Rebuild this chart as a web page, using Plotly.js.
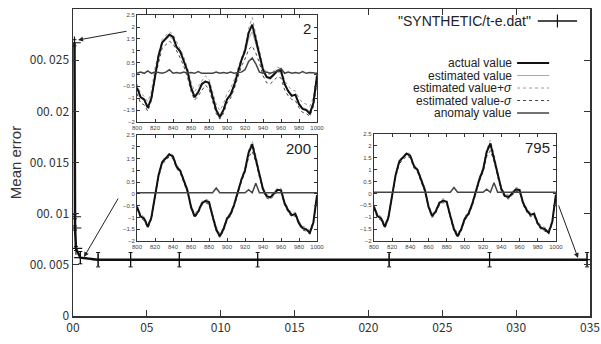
<!DOCTYPE html>
<html><head><meta charset="utf-8">
<script src="https://cdn.plot.ly/plotly-3.0.1.min.js"></script>
<style>html,body{margin:0;padding:0;background:#fff}#c{width:601px;height:344px}</style>
</head><body><div id="c"></div>
<script>
// ---- main series ----
const runX = [0.1, 0.12, 0.14, 0.2, 0.5, 1.7, 3.9, 7.2, 12.5, 21.4, 28.2, 34.8];
const meanErr = [0.0267, 0.0097, 0.0086, 0.0066, 0.0057, 0.0055, 0.0055, 0.0055, 0.0055, 0.0055, 0.0055, 0.0055];
const errBar = [0.0003, 0.0002, 0.0002, 0.0002, 0.0006, 0.0007, 0.0007, 0.0007, 0.0007, 0.0007, 0.0007, 0.0007];
const xTickVals = [0, 5, 10, 15, 20, 25, 30, 35];
const xTickText = ["00", "05", "010", "015", "020", "025", "030", "035"];
const yTickVals = [0, 0.005, 0.01, 0.015, 0.02, 0.025, 0.03];
const yTickText = ["0", "00. 005", "00. 01", "00. 015", "00. 02", "00. 025", "00. 03"];

// ---- inset series ----
const t = [800,804,808,812,816,820,824,828,832,836,840,844,848,852,856,860,864,868,872,876,880,884,888,892,896,900,904,908,912,916,920,924,928,932,936,940,944,948,952,956,960,964,968,972,976,980,984,988,992,996,1000];
const actual = [-0.55,-0.95,-1.05,-1.4,-1.0,-0.05,0.8,1.35,1.5,1.68,1.58,1.15,0.98,0.6,0.15,-0.55,-0.95,-0.75,-0.4,-0.3,-0.35,-0.95,-1.5,-1.8,-1.5,-1.05,-0.85,-0.45,0.1,0.6,1.0,1.75,2.1,1.5,0.8,0.2,-0.1,-0.15,0.0,0.17,0.15,-0.4,-0.7,-0.9,-0.85,-1.25,-1.45,-1.5,-1.65,-1.2,-0.05];
const est1 = [-0.6,-1.0,-1.1,-1.35,-0.9,0.05,0.7,1.3,1.45,1.6,1.5,1.2,0.9,0.55,0.1,-0.5,-0.9,-0.7,-0.45,-0.25,-0.4,-0.9,-1.45,-1.7,-1.45,-1.0,-0.8,-0.4,0.05,0.55,0.9,1.5,1.8,1.3,0.75,0.15,-0.15,-0.2,-0.05,0.1,0.05,-0.45,-0.7,-0.85,-0.9,-1.2,-1.4,-1.45,-1.55,-1.15,-0.1];
const sig1 = [0.2,0.2,0.18,0.2,0.2,0.22,0.2,0.18,0.2,0.2,0.2,0.18,0.2,0.2,0.2,0.2,0.18,0.2,0.2,0.2,0.2,0.2,0.2,0.18,0.2,0.2,0.2,0.2,0.2,0.2,0.25,0.45,0.6,0.4,0.25,0.2,0.2,0.2,0.2,0.2,0.2,0.2,0.2,0.2,0.2,0.2,0.2,0.2,0.2,0.2,0.2];
const anom1 = [0.05,0.1,0.05,0.15,0.05,0.1,0.08,0.05,0.1,0.2,0.05,0.08,0.05,0.1,0.05,0.08,0.05,0.12,0.05,0.05,0.08,0.05,0.1,0.05,0.08,0.05,0.1,0.05,0.08,0.1,0.2,0.55,0.7,0.45,0.1,0.05,0.1,0.05,0.1,0.15,0.25,0.05,0.1,0.05,0.08,0.05,0.12,0.05,0.08,0.05,0.05];
const est23 = [-0.55,-0.95,-1.05,-1.38,-1.0,-0.05,0.78,1.33,1.5,1.66,1.57,1.15,0.97,0.6,0.15,-0.53,-0.93,-0.75,-0.4,-0.3,-0.36,-0.94,-1.48,-1.77,-1.5,-1.04,-0.85,-0.45,0.1,0.6,1.0,1.7,2.02,1.5,0.8,0.2,-0.1,-0.15,0.0,0.17,0.15,-0.4,-0.7,-0.9,-0.85,-1.24,-1.45,-1.5,-1.62,-1.2,-0.05];
const sig23 = [0.08,0.08,0.08,0.08,0.08,0.08,0.08,0.08,0.08,0.08,0.08,0.08,0.08,0.08,0.08,0.08,0.08,0.08,0.08,0.08,0.08,0.08,0.1,0.08,0.08,0.08,0.08,0.08,0.08,0.08,0.1,0.15,0.22,0.15,0.1,0.08,0.08,0.08,0.08,0.08,0.08,0.08,0.08,0.08,0.08,0.08,0.08,0.08,0.08,0.08,0.08];
const anom2 = [0.05,0.05,0.05,0.05,0.05,0.05,0.05,0.06,0.05,0.05,0.05,0.05,0.05,0.05,0.05,0.05,0.05,0.05,0.05,0.05,0.05,0.05,0.25,0.05,0.05,0.05,0.05,0.05,0.05,0.05,0.05,0.18,0.05,0.45,0.05,0.05,0.05,0.05,0.05,0.05,0.05,0.05,0.05,0.05,0.05,0.05,0.05,0.05,0.05,0.05,0.05];
const anom3 = [0.05,0.05,0.05,0.05,0.05,0.05,0.05,0.06,0.05,0.05,0.05,0.05,0.05,0.05,0.05,0.05,0.05,0.05,0.05,0.05,0.05,0.05,0.25,0.05,0.05,0.05,0.05,0.05,0.05,0.05,0.05,0.18,0.05,0.45,0.05,0.05,0.05,0.05,0.05,0.05,0.05,0.05,0.05,0.05,0.05,0.05,0.05,0.05,0.05,0.05,0.05];
const insetLabels = ["2", "200", "795"];
const legendNames = ["actual value", "estimated value", "estimated value+<i>σ</i>", "estimated value-<i>σ</i>", "anomaly value"];
const legendStyles = [
  {color:"#111", width:2, dash:"solid"},
  {color:"#aaa", width:1, dash:"solid"},
  {color:"#999", width:1, dash:"dot"},
  {color:"#444", width:1, dash:"dot"},
  {color:"#444", width:1.5, dash:"solid"}
];

const traces = [];
traces.push({
  x: runX, y: meanErr, type: "scatter", mode: "lines+markers", name: "\"SYNTHETIC/t-e.dat\"",
  line: {color: "#111", width: 2.5},
  marker: {symbol: "cross-thin", size: 9, line: {color: "#111", width: 1.2}},
  error_y: {type: "data", array: errBar, visible: true, color: "#111", thickness: 1, width: 2},
  showlegend: false, xaxis: "x", yaxis: "y"
});

function insetTraces(ax, est, sig, anom) {
  const up = est.map((v, i) => v + sig[i]);
  const lo = est.map((v, i) => v - sig[i]);
  const xa = "x" + ax, ya = "y" + ax;
  const s = legendStyles;
  return [
    {x: t, y: up, mode: "lines", line: s[2], xaxis: xa, yaxis: ya, showlegend: false},
    {x: t, y: lo, mode: "lines", line: s[3], xaxis: xa, yaxis: ya, showlegend: false},
    {x: t, y: est, mode: "lines", line: s[1], xaxis: xa, yaxis: ya, showlegend: false},
    {x: t, y: actual, mode: "lines", line: s[0], xaxis: xa, yaxis: ya, showlegend: false},
    {x: t, y: anom, mode: "lines", line: s[4], xaxis: xa, yaxis: ya, showlegend: false}
  ];
}
traces.push(...insetTraces(2, est1, sig1, anom1));
traces.push(...insetTraces(3, est23, sig23, anom2));
traces.push(...insetTraces(4, est23, sig23, anom3));

const tickFontMain = {family: "Noto Sans CJK JP, Liberation Sans, sans-serif", size: 12, color: "#333"};
const insetTick = {family: "Liberation Sans, Arial, sans-serif", size: 6, color: "#444"};

function insetAxes(xd, yd, anchorX, anchorY) {
  return [
    {domain: xd, anchor: anchorY, range: [800, 1000], tickvals: [800,820,840,860,880,900,920,940,960,980,1000],
     showline: true, mirror: "ticks", linecolor: "#333", linewidth: 1, ticks: "inside", ticklen: 3, tickcolor: "#333",
     tickfont: insetTick, showgrid: false, zeroline: false, ticklabelstandoff: 0},
    {domain: yd, anchor: anchorX, range: [-2, 2.5], tickvals: [-2,-1.5,-1,-0.5,0,0.5,1,1.5,2,2.5],
     showline: true, mirror: "ticks", linecolor: "#333", linewidth: 1, ticks: "inside", ticklen: 3, tickcolor: "#333",
     tickfont: insetTick, showgrid: false, zeroline: false}
  ];
}
const [x2, y2] = insetAxes([0.1238, 0.472], [0.632, 0.980], "x2", "y2");
const [x3, y3] = insetAxes([0.1238, 0.472], [0.244, 0.590], "x3", "y3");
const [x4, y4] = insetAxes([0.582, 0.934], [0.244, 0.593], "x4", "y4");

const annotations = [];
const shapes = [];
[2, 3, 4].forEach((k, i) => {
  annotations.push({xref: "x" + k + " domain", yref: "y" + k + " domain", x: 0.98, y: 0.97, xanchor: "right", yanchor: "top",
    text: insetLabels[i], showarrow: false, font: {family: "Liberation Sans, Arial, sans-serif", size: 15, color: "#222"}});
});
annotations.push({xref: "paper", yref: "paper", x: 0.890, y: 0.961, xanchor: "right", yanchor: "middle",
  text: traces[0].name, showarrow: false, font: {family: "Liberation Sans, Arial, sans-serif", size: 14, color: "#222"}});
shapes.push({type: "line", xref: "paper", yref: "paper", x0: 0.899, x1: 0.975, y0: 0.961, y1: 0.961, line: {color: "#111", width: 1.5}});
shapes.push({type: "line", xref: "paper", yref: "paper", x0: 0.937, x1: 0.937, y0: 0.940, y1: 0.982, line: {color: "#111", width: 1.2}});
legendNames.forEach((nm, i) => {
  const yy = 0.824 - i * 0.0407;
  annotations.push({xref: "paper", yref: "paper", x: 0.851, y: yy, xanchor: "right", yanchor: "middle",
    text: nm, showarrow: false, borderpad: 0, font: {family: "Liberation Sans, Arial, sans-serif", size: 12, color: "#222"}});
  shapes.push({type: "line", xref: "paper", yref: "paper", x0: 0.859, x1: 0.921, y0: yy, y1: yy, line: legendStyles[i]});
});
const arrowCommon = {xref: "x", yref: "y", showarrow: true, arrowhead: 2, arrowsize: 1, arrowwidth: 1, arrowcolor: "#222", text: ""};
annotations.push(Object.assign({}, arrowCommon, {x: 0.34, y: 0.02697, ax: 50, ay: -9}));
annotations.push(Object.assign({}, arrowCommon, {x: 0.745, y: 0.005765, ax: 35, ay: -60}));
annotations.push(Object.assign({}, arrowCommon, {x: 34.19, y: 0.00567, ax: -20, ay: -54}));

const layout = {
  width: 601, height: 344,
  margin: {l: 73, r: 11, t: 9, b: 28},
  paper_bgcolor: "#fff", plot_bgcolor: "#fff",
  showlegend: false,
  xaxis: {range: [0, 35], tickvals: xTickVals, ticktext: xTickText, showline: true, mirror: "ticks",
    linecolor: "#333", linewidth: 1.5, ticks: "inside", ticklen: 6, tickcolor: "#333", showgrid: false, zeroline: false,
    tickfont: tickFontMain},
  yaxis: {range: [0, 0.03], tickvals: yTickVals, ticktext: yTickText, showline: true, mirror: "ticks",
    linecolor: "#333", linewidth: 1.5, ticks: "inside", ticklen: 6, tickcolor: "#333", showgrid: false, zeroline: false,
    tickfont: tickFontMain,
    title: {text: "Mean error", font: {family: "Liberation Sans, Arial, sans-serif", size: 15, color: "#333"}, standoff: 4}},
  xaxis2: x2, yaxis2: y2, xaxis3: x3, yaxis3: y3, xaxis4: x4, yaxis4: y4,
  annotations: annotations, shapes: shapes
};
Plotly.newPlot("c", traces, layout, {displayModeBar: false, staticPlot: true});
</script></body></html>
